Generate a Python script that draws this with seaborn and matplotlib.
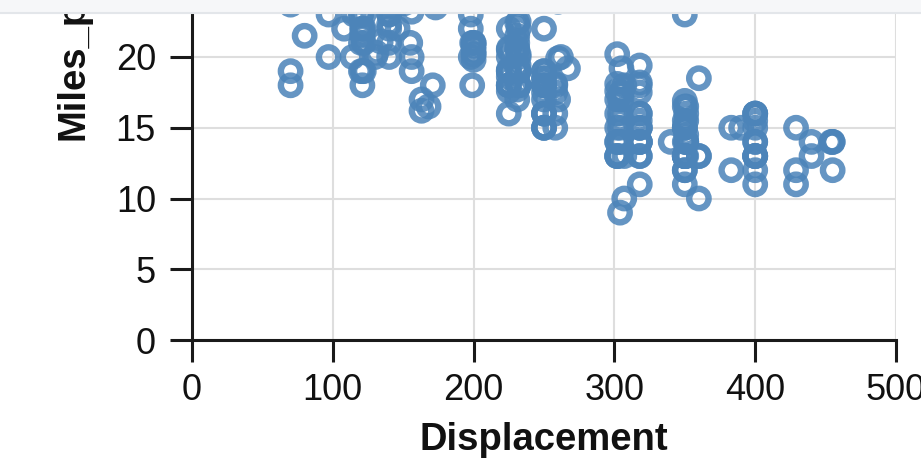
import matplotlib
matplotlib.use("Agg")
import matplotlib.pyplot as plt
import seaborn as sns
import pandas as pd
from matplotlib.patches import Rectangle
from matplotlib.lines import Line2D

# Cars dataset (Displacement vs Miles_per_Gallon), the visible low-MPG part
displacement = [
    307, 350, 318, 304, 302, 429, 454, 440, 455, 390, 383, 340, 400, 455, 113, 198, 199, 200,
    110, 107, 104, 199, 360, 307, 318, 304, 113, 98, 232, 225, 250, 250, 232, 350, 400, 351,
    318, 383, 400, 400, 258, 140, 250, 250, 122, 113, 97.5, 97, 140, 122, 350, 400, 318, 351,
    304, 429, 350, 350, 400, 70, 304, 307, 302, 318, 121, 121, 120, 122, 120, 350, 304, 350,
    302, 318, 429, 400, 351, 318, 440, 455, 360, 225, 250, 232, 250, 198, 400, 400, 360, 350,
    232, 97, 140, 108, 70, 122, 155, 350, 400, 116, 114, 121, 318, 121, 156, 350, 198, 200,
    232, 250, 140, 250, 258, 225, 302, 350, 318, 302, 304, 90, 120, 225, 250, 250, 250, 400,
    350, 318, 351, 231, 250, 258, 225, 231, 262, 302, 140, 232, 140, 134, 90, 119, 171, 232,
    115, 120, 121, 121, 116, 140, 305, 318, 304, 351, 225, 250, 200, 232, 98, 225, 250, 250,
    258, 130, 318, 120, 156, 168, 350, 350, 302, 318, 305, 260, 318, 302, 250, 231, 225, 250,
    400, 350, 400, 351, 151, 146, 121, 80, 260, 318, 302, 231, 200, 200, 225, 232, 231, 200,
    225, 258, 305, 231, 302, 318, 134, 156, 151, 119, 131, 163, 121, 163, 231, 200, 140, 232,
    225, 305, 302, 351, 318, 350, 351, 267, 360, 350, 260, 151, 225, 70, 140, 173, 146, 231,
    200, 225, 140, 232,
]
miles_per_gallon = [
    18, 15, 18, 16, 17, 15, 14, 14, 14, 15, 15, 14, 15, 14, 24, 22, 18, 21,
    25, 24, 25, 21, 10, 10, 11, 9, 25, 25, 19, 16, 17, 19, 18, 14, 14, 14,
    14, 12, 13, 13, 18, 22, 19, 18, 23, 24, 25, 23, 20, 21, 13, 14, 15, 14,
    17, 11, 13, 12, 13, 19, 15, 13, 13, 14, 18, 22, 21, 22, 23, 13, 14, 13,
    14, 15, 12, 13, 13, 14, 13, 12, 13, 18, 16, 18, 18, 23, 11, 12, 13, 12,
    18, 20, 21, 22, 18, 19, 21, 15, 16, 24, 20, 19, 15, 24, 20, 11, 20, 21,
    19, 15, 25, 16, 16, 18, 16, 13, 14, 14, 14, 24, 24, 19, 18, 15, 15, 16,
    15, 16, 14, 17, 16, 15, 18, 21, 20, 13, 23, 20, 23, 24, 25, 24, 18, 19,
    23, 23, 22, 25, 25, 25, 17.5, 16, 15.5, 14.5, 22, 22, 24, 22.5, 24.5, 20, 18, 18.5,
    17.5, 20, 13, 19, 19, 16.5, 16.5, 13, 13, 13, 17.5, 17, 15.5, 15, 17.5, 20.5, 19, 18.5,
    16, 15.5, 15.5, 16, 24.5, 22, 21.5, 21.5, 19.9, 19.4, 20.2, 19.2, 20.5, 20.2, 20.5, 19.4, 20.6, 20.8,
    18.6, 18.1, 19.2, 17.7, 18.1, 17.5, 21.1, 23.2, 23.8, 23.9, 20.3, 17, 21.6, 16.2, 21.5, 19.8, 22.3, 20.2,
    20.6, 17, 17.6, 16.5, 18.2, 16.9, 15.5, 19.2, 18.5, 23, 23.9, 24.3, 19.1, 23.7, 23.6, 23.5, 24.2, 22.4,
    20.2, 17.6, 24, 22,
]
x_ticks = [0, 100, 200, 300, 400, 500]
y_ticks = [0, 5, 10, 15, 20]

df = pd.DataFrame({"Displacement": displacement, "Miles_per_Gallon": miles_per_gallon})

sns.set_style("white")
plt.rcParams["font.family"] = ["Liberation Sans", "DejaVu Sans"]

W, H = 921, 468
fig = plt.figure(figsize=(W / 100, H / 100), dpi=100)
px_per_unit_y = 14.15
y_top = 30
ax = fig.add_axes([192 / W, 128 / H, 704 / W, (y_top * px_per_unit_y) / H])

ring = "#4c84b9"
sns.scatterplot(
    data=df, x="Displacement", y="Miles_per_Gallon", ax=ax,
    marker="o", s=195, facecolors="none", edgecolor=ring,
    linewidth=4.6, alpha=0.86, zorder=3, legend=False,
)
for coll in ax.collections:
    coll.set_facecolor("none")
    coll.set_edgecolor(ring)
    coll.set_linewidth(4.6)
    coll.set_alpha(0.86)

ax.set_xlim(0, 500)
ax.set_ylim(0, y_top)
ax.set_xticks(x_ticks)
ax.set_yticks(y_ticks)
ax.grid(True, color="#dedede", linewidth=1.5, zorder=0)
ax.set_axisbelow(True)
# grid line at 25 (the tick itself is above the visible figure)
ax.axhline(25, color="#dedede", linewidth=1.5, zorder=0)

for s in ["top", "right"]:
    ax.spines[s].set_visible(False)
for s in ["left", "bottom"]:
    ax.spines[s].set_color("#1a1a1a")
    ax.spines[s].set_linewidth(2.2)
    ax.spines[s].set_zorder(4)

ax.tick_params(axis="both", which="major", length=16, width=2.2, color="#1a1a1a",
               labelsize=26, labelcolor="#111111", direction="out",
               bottom=True, left=True)
ax.tick_params(axis="y", pad=10)
ax.tick_params(axis="x", pad=8)

ax.set_xlabel("Displacement", fontsize=27.5, fontweight="bold", color="#111111", labelpad=10)
ax.set_ylabel("Miles_per_Gallon", fontsize=27.5, fontweight="bold", color="#111111")
ax.yaxis.set_label_coords((83 - 192) / 704, (340 - 140) / (y_top * px_per_unit_y))
ax.yaxis.label.set_ha("left")
ax.yaxis.label.set_va("baseline")

# light browser-like band at the top edge
fig.add_artist(Rectangle((0, 1 - 13 / H), 1, 13 / H, transform=fig.transFigure,
                         facecolor="#f6f7f9", edgecolor="none", zorder=20))
fig.add_artist(Line2D([0, 1], [1 - 13 / H, 1 - 13 / H], transform=fig.transFigure,
                      color="#e3e6ea", linewidth=1.5, zorder=21))

fig.savefig("out.png", dpi=100)
